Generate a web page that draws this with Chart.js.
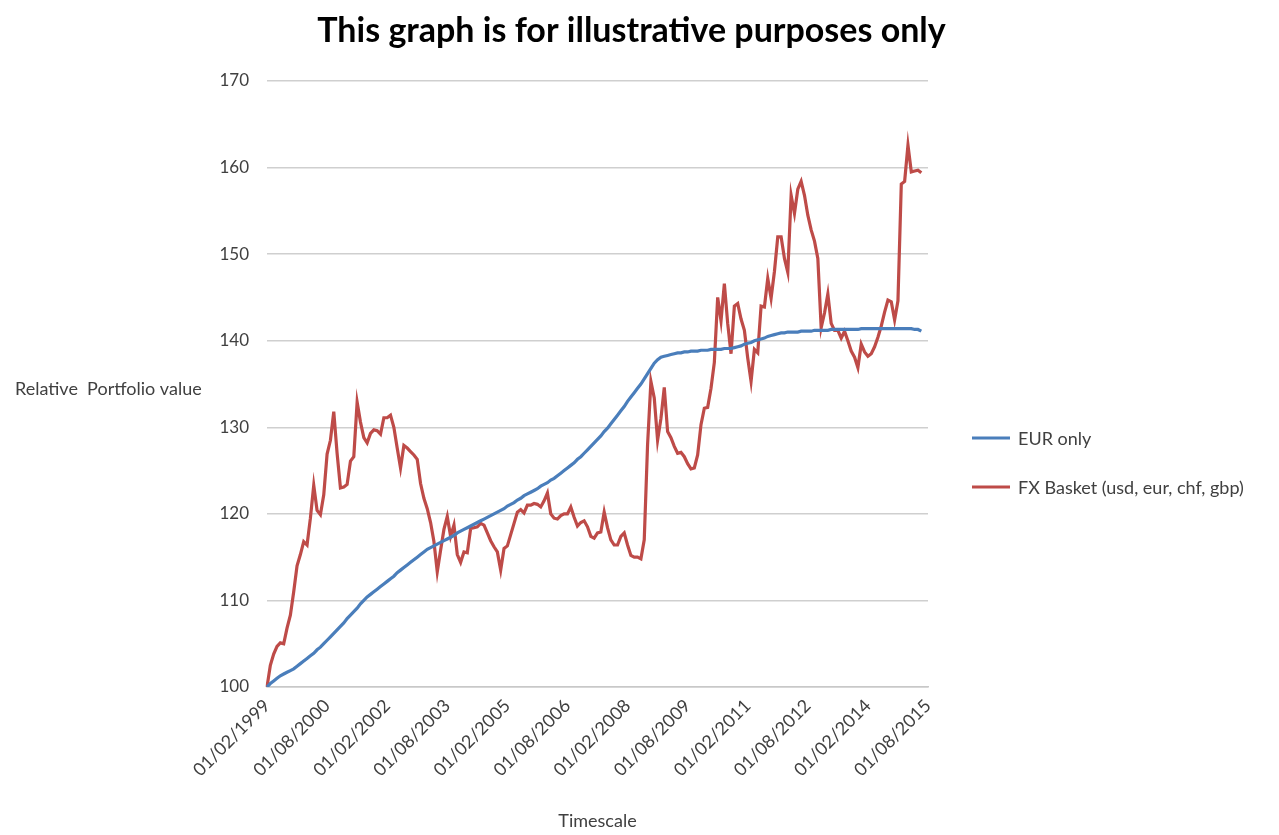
<!DOCTYPE html>
<html>
<head>
<meta charset="utf-8">
<script src="https://cdn.jsdelivr.net/npm/chart.js@4/dist/chart.umd.min.js"></script>
<style>
  html, body { margin: 0; padding: 0; background: #ffffff; }
  #wrap { width: 1279px; height: 835px; position: relative; }
</style>
</head>
<body>
<div id="wrap"><canvas id="chart" width="1279" height="835"></canvas></div>
<script>
// Monthly observations, first of each month from 01/02/1999
const startYear = 1999;
const startMonth = 2;
const monthCount = 199;

// Axis labels shown every 18 months
const tickLabels = ['01/02/1999', '01/08/2000', '01/02/2002', '01/08/2003', '01/02/2005', '01/08/2006',
                    '01/02/2008', '01/08/2009', '01/02/2011', '01/08/2012', '01/02/2014', '01/08/2015'];
const tickEvery = 18;

const yTicks = { min: 100, max: 170, step: 10 };

const chartTitle = 'This graph is for illustrative purposes only';
const xTitle = 'Timescale';
const yTitle = 'Relative  Portfolio value';

const seriesNames = ['EUR only', 'FX Basket (usd, eur, chf, gbp)'];

const eurOnly = [
  100.0, 100.4, 100.7, 101.0, 101.3,
  101.5, 101.7, 101.9, 102.1,
  102.4, 102.7, 103.0, 103.3, 103.6,
  103.9, 104.3, 104.6, 105.0, 105.4,
  105.8, 106.2, 106.6, 107.0, 107.4,
  107.9, 108.3, 108.7, 109.1, 109.6,
  110.0, 110.4, 110.7, 111.0, 111.3,
  111.6, 111.9, 112.2, 112.5, 112.8,
  113.2, 113.5, 113.8, 114.1, 114.4,
  114.7, 115.0, 115.3, 115.6, 115.9,
  116.1, 116.3, 116.5, 116.7, 116.9,
  117.1, 117.3, 117.5, 117.8, 118.0,
  118.2, 118.4, 118.6, 118.8, 119.0,
  119.2, 119.4, 119.6, 119.8, 120.0,
  120.2, 120.4, 120.6, 120.9, 121.1,
  121.3, 121.6, 121.8, 122.1, 122.3,
  122.5, 122.7, 122.9, 123.2, 123.4,
  123.6, 123.9, 124.1, 124.4, 124.7,
  125.0, 125.3, 125.6, 125.9, 126.3,
  126.6, 127.0, 127.4, 127.8, 128.2,
  128.6, 129.0, 129.5, 129.9, 130.4,
  130.9, 131.4, 131.9, 132.4, 133.0,
  133.5, 134.0, 134.5, 135.0, 135.6,
  136.2, 136.8, 137.4, 137.8, 138.1,
  138.2, 138.3, 138.4, 138.5, 138.6,
  138.6, 138.7, 138.7, 138.8, 138.8,
  138.8, 138.9, 138.9, 138.9, 139.0,
  139.0, 139.0, 139.0, 139.1, 139.1,
  139.1, 139.2, 139.3, 139.4, 139.6,
  139.7, 139.8, 140.0, 140.1, 140.2,
  140.3, 140.5, 140.6, 140.7, 140.8,
  140.9, 140.9, 141.0, 141.0, 141.0,
  141.0, 141.1, 141.1, 141.1, 141.1,
  141.2, 141.2, 141.2, 141.2, 141.2,
  141.3, 141.3, 141.3, 141.3, 141.3,
  141.3, 141.3, 141.3, 141.3, 141.4,
  141.4, 141.4, 141.4, 141.4, 141.4,
  141.4, 141.4, 141.4, 141.4, 141.4,
  141.4, 141.4, 141.4, 141.4, 141.4,
  141.3, 141.3, 141.1
];

const fxBasket = [
  100.0, 102.5, 103.8, 104.7, 105.1, 105.0, 106.8, 108.3, 111.0, 114.0,
  115.3, 116.8, 116.4, 119.5, 123.3, 120.4, 119.9, 122.2, 126.9, 128.5,
  131.8, 127.0, 123.0, 123.1, 123.4, 126.1, 126.6, 132.9, 130.6, 128.8,
  128.2, 129.3, 129.7, 129.6, 129.2, 131.1, 131.1, 131.4, 130.0, 127.6,
  125.3, 127.9, 127.6, 127.2, 126.8, 126.3, 123.5, 121.8, 120.6, 119.0,
  116.8, 113.3, 115.8, 118.2, 119.7, 117.4, 118.7, 115.3, 114.4, 115.6,
  115.5, 118.3, 118.4, 118.5, 118.9, 118.7, 117.8, 116.9, 116.2, 115.6,
  113.5, 116.0, 116.3, 117.6, 118.9, 120.2, 120.5, 120.1, 121.0, 121.0,
  121.2, 121.1, 120.8, 121.5, 122.4, 120.0, 119.5, 119.4, 119.8, 120.0,
  120.0, 120.8, 119.6, 118.6, 119.0, 119.2, 118.5, 117.4, 117.2, 117.8,
  117.9, 120.2, 118.4, 117.0, 116.4, 116.4, 117.4, 117.8, 116.4, 115.2,
  115.0, 115.0, 114.8, 117.0, 128.0, 135.3, 133.4, 128.5, 131.0, 134.6,
  129.5, 128.8, 127.8, 127.0, 127.1, 126.6, 125.8, 125.2, 125.3, 126.8,
  130.3, 132.2, 132.3, 134.5, 137.5, 145.0, 142.3, 146.6, 142.0, 138.5,
  144.0, 144.3, 142.5, 141.2, 138.0, 135.3, 139.0, 138.6, 144.0, 143.9,
  147.2, 144.9, 148.0, 152.0, 152.0, 149.5, 147.9, 156.8, 154.7, 157.5,
  158.4, 156.8, 154.5, 152.8, 151.5, 149.5, 141.5, 143.2, 145.4, 142.0,
  141.2, 141.2, 140.3, 141.1, 140.0, 138.8, 138.1, 136.9, 139.6, 138.7,
  138.2, 138.5, 139.3, 140.4, 141.7, 143.3, 144.7, 144.5, 142.4, 144.6,
  158.1, 158.4, 162.6, 159.5, 159.6, 159.7, 159.4
];

const seriesColors = ['#4A7EBB', '#BE4B48'];

// Category labels: one per month
const months = [];
for (let k = 0; k < monthCount; k++) {
  const m = (startMonth - 1 + k) % 12 + 1;
  const y = startYear + Math.floor((startMonth - 1 + k) / 12);
  months.push('01/' + String(m).padStart(2, '0') + '/' + y);
}

const FONT = 'Lato, "Open Sans", sans-serif';
const TEXT = '#404040';

// Heading centred over the whole figure
const heading = {
  id: 'heading',
  afterDraw(chart) {
    const { ctx, width } = chart;
    ctx.save();
    ctx.font = 'bold 34px ' + FONT;
    ctx.fillStyle = '#000000';
    ctx.textAlign = 'center';
    ctx.textBaseline = 'middle';
    ctx.fillText(chartTitle, width / 2 - 8, 31);
    ctx.restore();
  }
};

// Horizontal axis caption on the left of the value axis
const sideTitle = {
  id: 'sideTitle',
  afterDraw(chart) {
    const { ctx, chartArea } = chart;
    ctx.save();
    ctx.font = '18px ' + FONT;
    ctx.fillStyle = TEXT;
    ctx.textAlign = 'left';
    ctx.textBaseline = 'middle';
    ctx.fillText(yTitle, 15, (chartArea.top + chartArea.bottom) / 2 + 5);
    ctx.restore();
  }
};

// Series key to the right of the plot
const sideLegend = {
  id: 'sideLegend',
  afterDraw(chart) {
    const { ctx, chartArea } = chart;
    const x0 = chartArea.right + 44;
    const y0 = (chartArea.top + chartArea.bottom) / 2 + 54;
    ctx.save();
    ctx.font = '18px ' + FONT;
    ctx.textBaseline = 'middle';
    ctx.textAlign = 'left';
    chart.data.datasets.forEach((ds, i) => {
      const y = y0 + i * 49;
      ctx.strokeStyle = ds.borderColor;
      ctx.lineWidth = 3;
      ctx.lineCap = 'butt';
      ctx.beginPath();
      ctx.moveTo(x0, y);
      ctx.lineTo(x0 + 38, y);
      ctx.stroke();
      ctx.fillStyle = TEXT;
      ctx.fillText(ds.label, x0 + 46, y + 1);
    });
    ctx.restore();
  }
};

new Chart(document.getElementById('chart'), {
  type: 'line',
  data: {
    labels: months,
    datasets: [
      { label: seriesNames[0], data: eurOnly, borderColor: seriesColors[0], backgroundColor: seriesColors[0],
        borderWidth: 3.2, pointRadius: 0, tension: 0, fill: false },
      { label: seriesNames[1], data: fxBasket, borderColor: seriesColors[1], backgroundColor: seriesColors[1],
        borderWidth: 3.2, pointRadius: 0, tension: 0, fill: false }
    ]
  },
  options: {
    responsive: false,
    animation: false,
    layout: { padding: { left: 0, right: 351, top: 81, bottom: 0 } },
    plugins: {
      legend: { display: false },
      tooltip: { enabled: false },
      title: { display: false }
    },
    scales: {
      x: {
        type: 'category',
        grid: { display: false, drawTicks: false },
        border: { display: true, color: '#c8c8c8', width: 1.5 },
        afterBuildTicks(scale) {
          scale.ticks = scale.ticks.filter(t => t.value % tickEvery === 0);
        },
        afterFit(scale) { scale.height = 148; },
        ticks: {
          autoSkip: false,
          minRotation: 45,
          maxRotation: 45,
          padding: 8,
          color: TEXT,
          font: { family: FONT, size: 18 },
          callback: (value) => tickLabels[Math.round(value / tickEvery)]
        },
        title: {
          display: true,
          text: xTitle,
          color: TEXT,
          font: { family: FONT, size: 18 },
          padding: { top: 0, bottom: 3 }
        }
      },
      y: {
        min: yTicks.min,
        max: yTicks.max,
        grid: { color: '#cfcfcf', lineWidth: 1.5, drawTicks: false },
        border: { display: false },
        afterFit(scale) { scale.width = 267; },
        ticks: {
          stepSize: yTicks.step,
          padding: 18,
          color: TEXT,
          font: { family: FONT, size: 17 }
        }
      }
    }
  },
  plugins: [heading, sideTitle, sideLegend]
});
</script>
</body>
</html>
